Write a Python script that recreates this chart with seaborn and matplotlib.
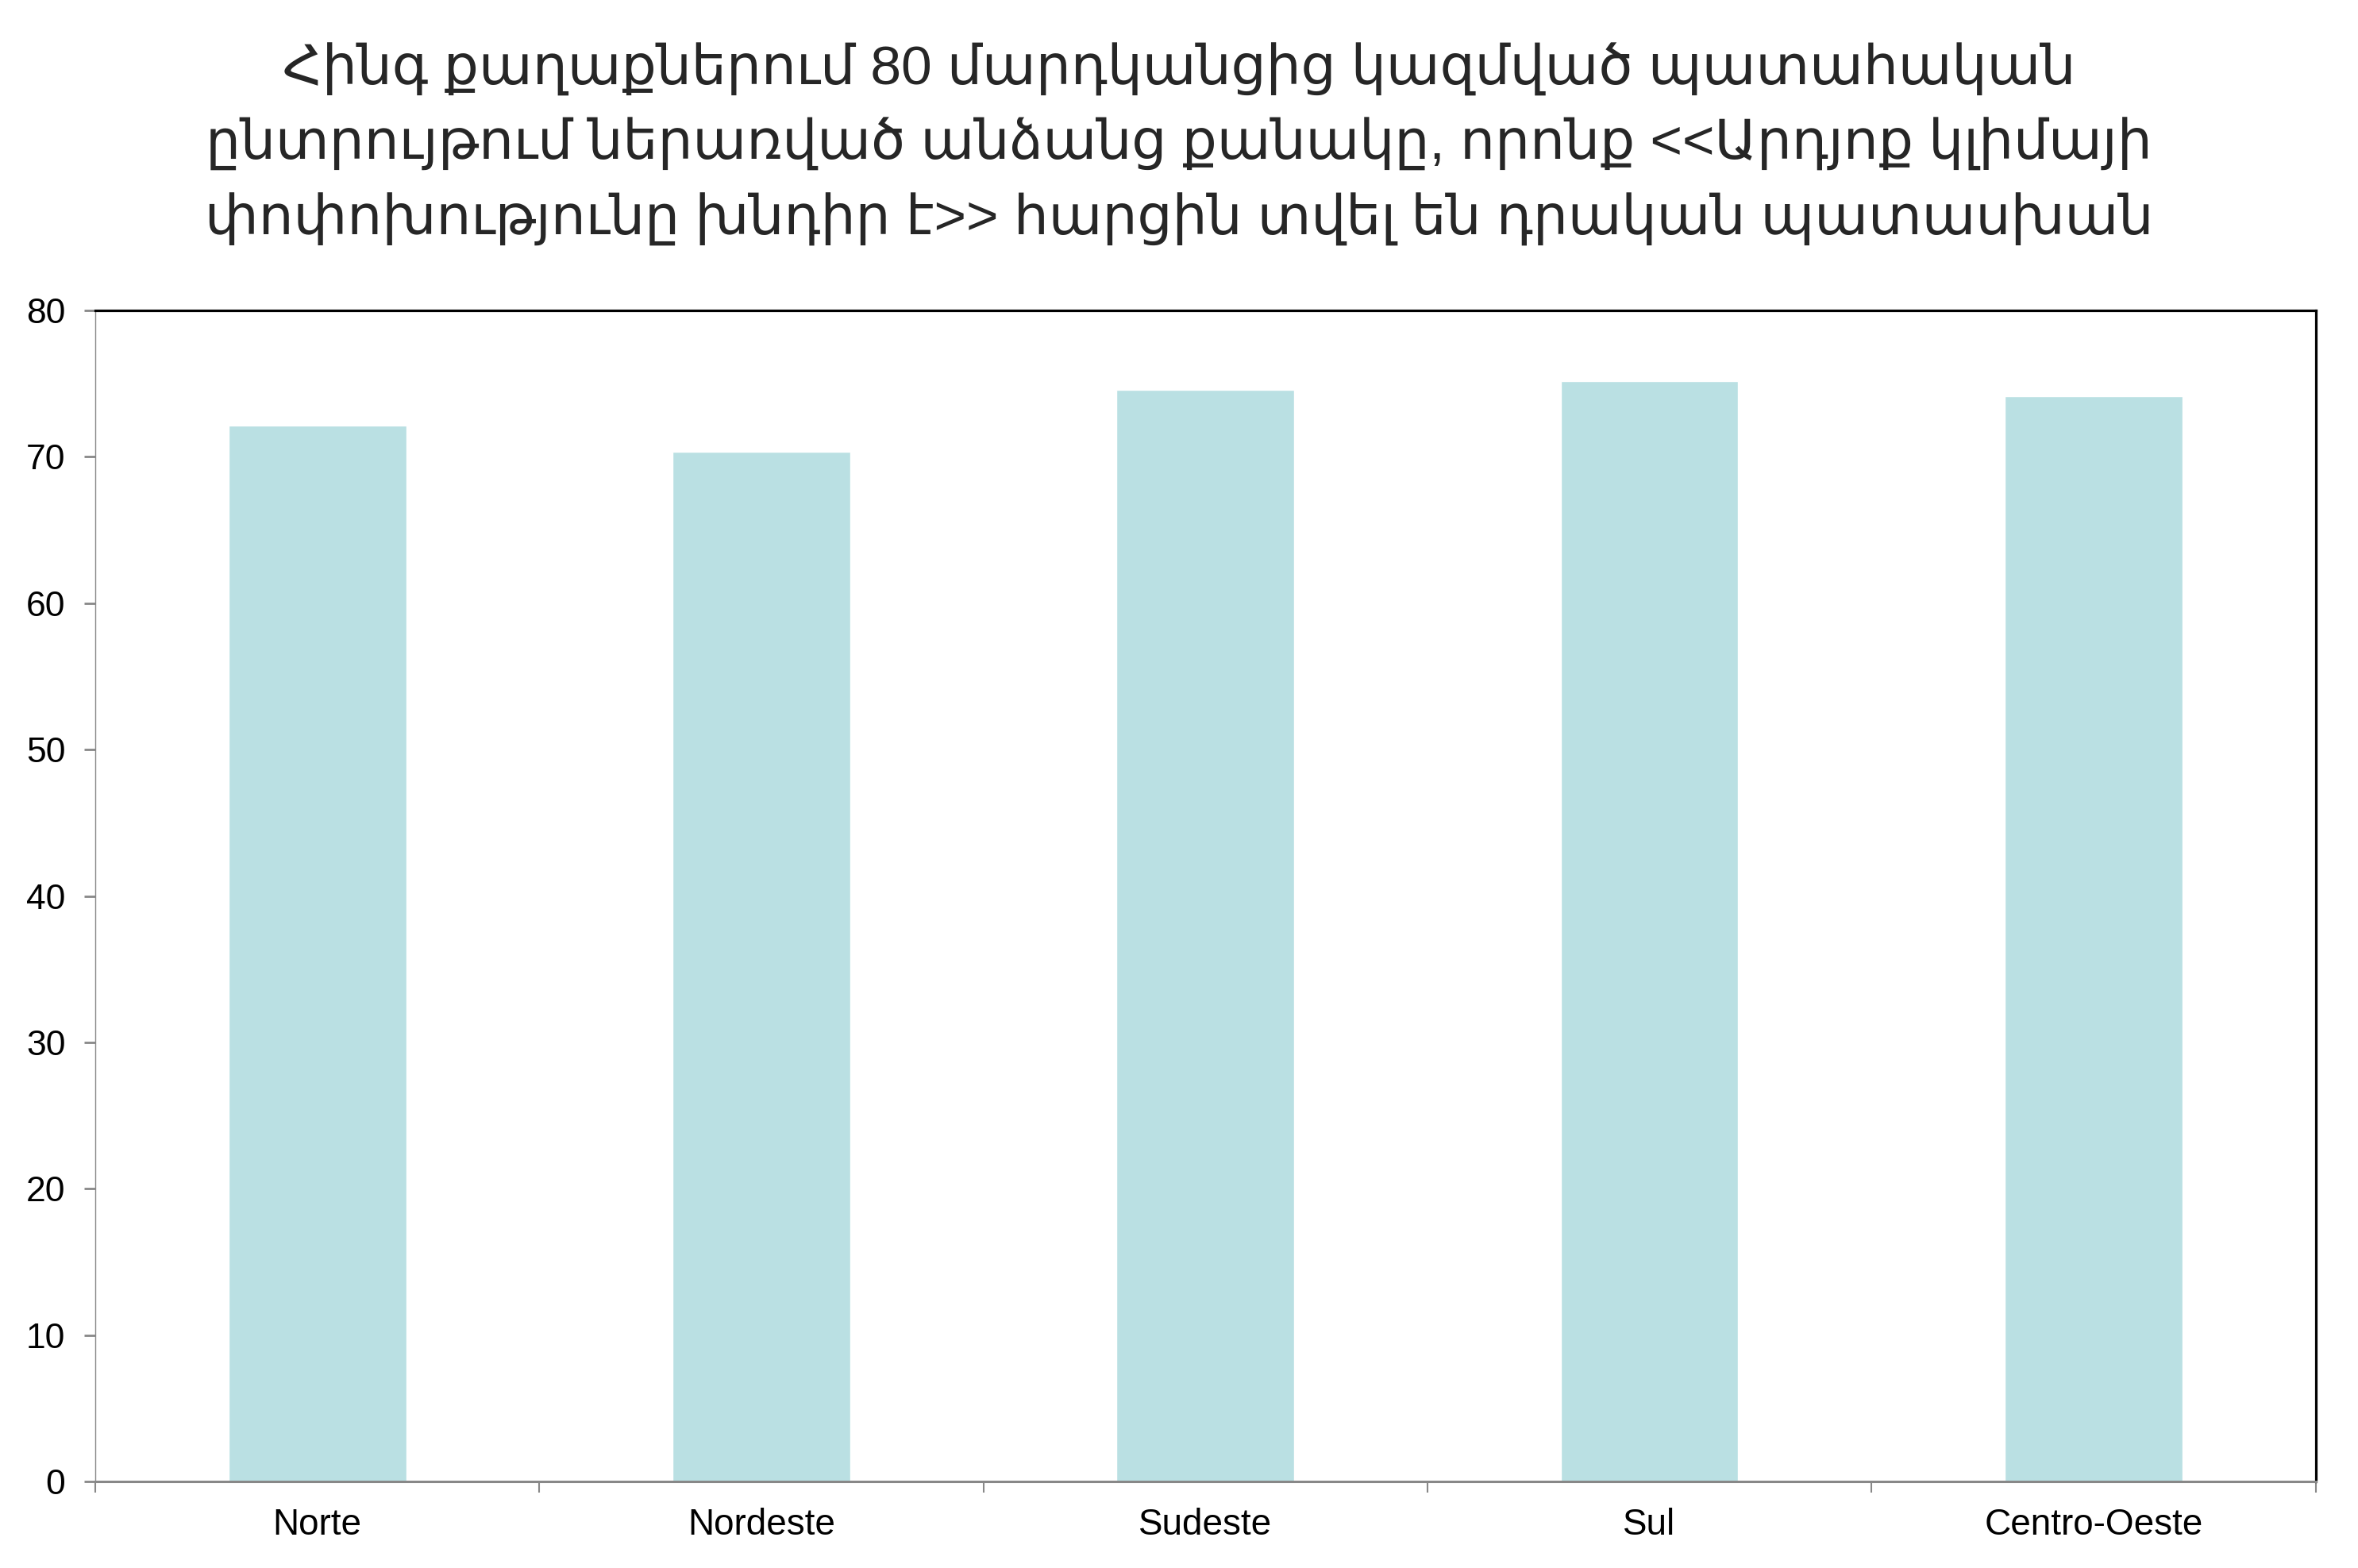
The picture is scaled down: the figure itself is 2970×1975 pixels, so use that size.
import matplotlib.pyplot as plt
from matplotlib.ticker import FixedLocator
import pandas as pd
import seaborn as sns

sns.set_theme(style="white")
plt.rcParams["font.family"] = ["Liberation Sans", "DejaVu Sans"]

regions = ["Norte", "Nordeste", "Sudeste", "Sul", "Centro-Oeste"]
yes_counts = [72.15, 70.33, 74.57, 75.16, 74.13]
y_ticks = [0, 10, 20, 30, 40, 50, 60, 70, 80]
title = (
    "Հինգ քաղաքներում 80 մարդկանցից կազմված պատահական\n"
    "ընտրույթում ներառված անձանց քանակը, որոնք <<Արդյոք կլիմայի\n"
    "փոփոխությունը խնդիր է>> հարցին տվել են դրական պատասխան"
)

df = pd.DataFrame({"region": regions, "count": yes_counts})

fig = plt.figure(figsize=(29.7, 19.75), dpi=100)
ax = fig.add_axes([0.0404, 0.0552, 0.9416, 0.7468])

sns.barplot(data=df, x="region", y="count", color="#bae0e3",
            saturation=1, width=0.4, ax=ax)

ax.set_ylim(0, 80)
ax.set_xlim(-0.5, len(regions) - 0.5)
ax.set_yticks(y_ticks)
ax.set_xlabel("")
ax.set_ylabel("")

grey = "#888888"
for side in ["top", "right"]:
    ax.spines[side].set_color("black")
    ax.spines[side].set_linewidth(2.3)
ax.spines["left"].set_color(grey)
ax.spines["left"].set_linewidth(1)
ax.spines["bottom"].set_color(grey)
ax.spines["bottom"].set_linewidth(2.2)

ax.tick_params(axis="y", which="major", left=True, length=10, width=2,
               color=grey, pad=17, labelsize=32, labelcolor="black")
ax.tick_params(axis="x", which="major", length=0, pad=24, labelsize=33,
               labelcolor="black")
ax.xaxis.set_minor_locator(FixedLocator([i - 0.5 for i in range(len(regions) + 1)]))
ax.tick_params(axis="x", which="minor", bottom=True, length=10, width=1.5,
               color=grey)

fig.text(0.5, 0.908, title, ha="center", va="center", fontsize=50,
         linespacing=1.52, family=["Liberation Sans", "DejaVu Sans"])

fig.savefig("out.png", dpi=100, facecolor="white")
